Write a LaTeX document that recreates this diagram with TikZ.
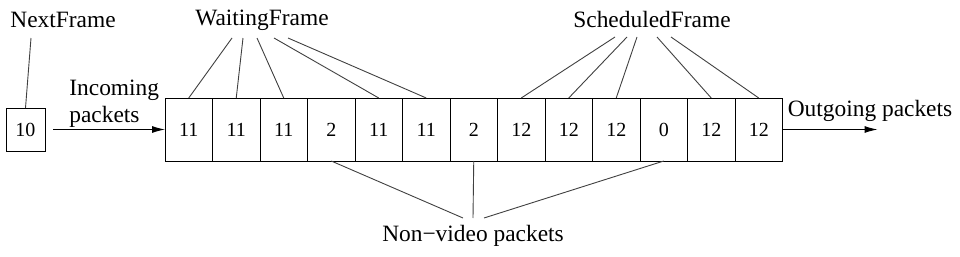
\documentclass[tikz,border=0pt]{standalone}
\usepackage{fontspec}
\setmainfont{Liberation Serif}
\usetikzlibrary{arrows.meta,positioning,calc}
\tikzset{
  cellbox/.style={
    rectangle, draw, line width=0.5pt,
    minimum width=23.75pt, minimum height=31.5pt,
    inner sep=0pt, outer sep=0pt, font=\fontsize{10}{12}\selectfont
  },
  framelabel/.style={
    font=\fontsize{11.7}{13.7}\selectfont, inner sep=1pt
  },
  pointer/.style={line width=0.45pt, draw=black!75},
  flowarrow/.style={
    -{Latex[length=6.5pt,width=3.5pt]}, line width=0.5pt
  },
}
\begin{document}
\begin{tikzpicture}[x=0.5pt, y=-0.5pt, node distance=0pt]
  \useasboundingbox (0,0) rectangle (960,257);

  % the queue of packets
  \node[cellbox] (c1) at (188.75,129.5) {11};
  \foreach \val [count=\i from 2] in {11,11,2,11,11,2,12,12,12,0,12,12} {
    \pgfmathtruncatemacro{\prev}{\i-1}
    \node[cellbox, right=of c\prev] (c\i) {\val};
  }

  \node[cellbox, minimum width=19.5pt, minimum height=21.5pt] (next) at (25.5,129.5) {10};

  \node[framelabel] (nextlbl) at (63,20) {NextFrame};
  \node[framelabel] (wait) at (262,20) {WaitingFrame};
  \node[framelabel] (sched) at (652,19) {ScheduledFrame};
  \node[framelabel] (nonvid) at (473,236) {Non\textminus video packets};
  \node[framelabel, anchor=west, align=left] (incoming) at (67,104) {Incoming\\packets};
  \node[framelabel] (outgoing) at (870,111) {Outgoing packets};

  \draw[flowarrow] (next.east) ++(8,0) coordinate (inA) -- (c1.west);
  \draw[flowarrow] (c13.east) -- ++(95,0) coordinate (outB);

  \draw[pointer] ($(nextlbl)+(-32,18)$) -- (next.north);

  % waiting frame pointers
  \foreach \dx/\c in {-30/1, -19/2, -5/3, 12/5, 26/6}
    \draw[pointer] ($(wait)+(\dx,18)$) -- (c\c.north);

  % scheduled frame pointers
  \foreach \dx/\c in {-37/8, -25/9, -15/10, 5/12, 19/13}
    \draw[pointer] ($(sched)+(\dx,18)$) -- (c\c.north);

  % non-video pointers
  \foreach \dx/\c in {-10/4, 0/7, 11/11}
    \draw[pointer] ($(nonvid)+(\dx,-18)$) -- (c\c.south);
\end{tikzpicture}
\end{document}
